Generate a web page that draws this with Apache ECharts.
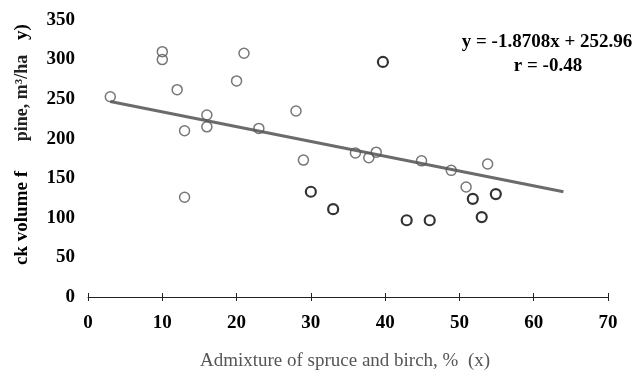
<!DOCTYPE html>
<html>
<head>
<meta charset="utf-8">
<script src="https://cdn.jsdelivr.net/npm/echarts@6/dist/echarts.min.js"></script>
<style>
  html, body { margin: 0; padding: 0; background: #fff; }
  #chart { width: 638px; height: 371px; }
</style>
</head>
<body>
<div id="chart"></div>
<script>
// admixture of spruce and birch (%) vs stock volume of pine (m3/ha)
const xTicks = [0, 10, 20, 30, 40, 50, 60, 70];
const yTicks = [0, 50, 100, 150, 200, 250, 300, 350];

// lighter (grey) circles in the scan
const greyX = [3, 10, 10, 12, 13, 13, 16, 16, 20, 21, 23, 28, 29, 36, 37.8, 38.8, 44.9, 48.9, 50.9, 53.8];
const greyY = [253, 310, 300, 262, 210, 126, 230, 215, 273, 308, 213, 235, 173, 182, 176, 183, 172, 160, 139, 168];

// darker (black) circles
const blackX = [30, 33, 39.7, 42.9, 46, 51.8, 53, 54.9];
const blackY = [133, 111, 297, 97, 97, 124, 101, 130];

// trend line end points
const trendX = [3, 64];
const trendY = [247, 133];

const zip = (a, b) => a.map((v, i) => [v, b[i]]);

const serif = '"Liberation Serif", "DejaVu Serif", serif';

const chart = echarts.init(document.getElementById('chart'));

chart.setOption({
  backgroundColor: '#fff',
  animation: false,
  grid: { left: 88, right: 30, top: 20, bottom: 74 },
  xAxis: [{
    type: 'value',
    min: 0, max: 70, interval: 10,
    splitLine: { show: false },
    axisLine: { lineStyle: { color: '#222', width: 1 } },
    axisTick: { length: 4, lineStyle: { color: '#222' } },
    axisLabel: {
      margin: 17,
      color: '#000',
      fontFamily: serif,
      fontWeight: 'bold',
      fontSize: 19,
      formatter: v => xTicks.includes(v) ? String(v) : ''
    }
  }, {
    // inner half of the crossing ticks
    type: 'value',
    position: 'bottom',
    min: 0, max: 70, interval: 10,
    splitLine: { show: false },
    axisLine: { show: false },
    axisTick: { inside: true, length: 4, lineStyle: { color: '#222' } },
    axisLabel: { show: false }
  }],
  yAxis: {
    type: 'value',
    min: 0, max: 350, interval: 50,
    splitLine: { show: false },
    axisLine: { show: false },
    axisTick: { show: false },
    axisLabel: {
      margin: 13,
      color: '#000',
      fontFamily: serif,
      fontWeight: 'bold',
      fontSize: 19,
      formatter: v => yTicks.includes(v) ? String(v) : ''
    }
  },
  graphic: [
    {
      type: 'text', x: 22, y: 218, rotation: Math.PI / 2, origin: [0, 0],
      style: { text: 'ck volume f', fill: '#000', font: 'bold 19px ' + serif, align: 'center', verticalAlign: 'middle' }
    },
    {
      type: 'text', x: 22, y: 98, rotation: Math.PI / 2, origin: [0, 0],
      style: { text: 'pine, m³/ha', fill: '#222', font: 'bold 18px ' + serif, align: 'center', verticalAlign: 'middle' }
    },
    {
      type: 'text', x: 22, y: 32, rotation: Math.PI / 2, origin: [0, 0],
      style: { text: 'y)', fill: '#000', font: 'bold 19px ' + serif, align: 'center', verticalAlign: 'middle' }
    },
    {
      type: 'text', x: 547, y: 42,
      style: { text: 'y = -1.8708x + 252.96', fill: '#000', font: 'bold 19px ' + serif, align: 'center', verticalAlign: 'middle' }
    },
    {
      type: 'text', x: 548, y: 66,
      style: { text: 'r = -0.48', fill: '#000', font: 'bold 19px ' + serif, align: 'center', verticalAlign: 'middle' }
    },
    {
      type: 'text', x: 345, y: 361,
      style: { text: 'Admixture of spruce and birch, %  (x)', fill: '#555', font: '19px ' + serif, align: 'center', verticalAlign: 'middle' }
    }
  ],
  series: [
    {
      type: 'line',
      data: zip(trendX, trendY),
      showSymbol: false,
      lineStyle: { color: '#6b6b6b', width: 3 },
      z: 2
    },
    {
      type: 'scatter',
      data: zip(greyX, greyY),
      symbol: 'circle',
      symbolSize: 10,
      itemStyle: { color: 'rgba(255,255,255,0)', borderColor: '#555', borderWidth: 1.5 },
      z: 3
    },
    {
      type: 'scatter',
      data: zip(blackX, blackY),
      symbol: 'circle',
      symbolSize: 10,
      itemStyle: { color: 'rgba(255,255,255,0)', borderColor: '#000', borderWidth: 2.2 },
      z: 3
    }
  ]
});
</script>
</body>
</html>
